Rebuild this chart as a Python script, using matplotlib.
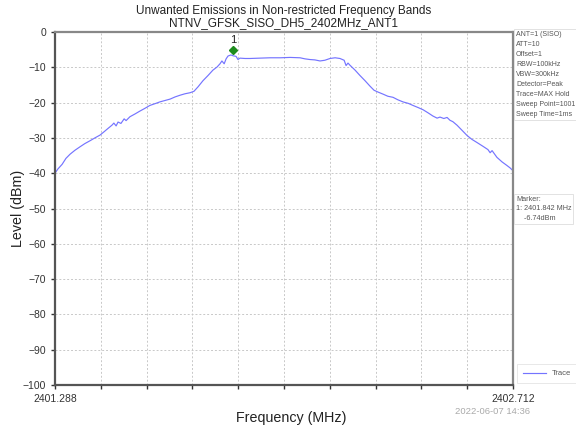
import matplotlib
matplotlib.use("Agg")
import matplotlib.pyplot as plt
import matplotlib.transforms as mtransforms

plt.rcParams['font.family'] = ['Liberation Sans', 'DejaVu Sans']

title = "Unwanted Emissions in Non-restricted Frequency Bands\nNTNV_GFSK_SISO_DH5_2402MHz_ANT1"
f_start, f_stop = 2401.288, 2402.712
freq = [2401.288, 2401.297, 2401.310, 2401.322, 2401.335, 2401.350, 2401.366, 2401.381,
        2401.397, 2401.412, 2401.428, 2401.440, 2401.453, 2401.465, 2401.471, 2401.478,
        2401.484, 2401.493, 2401.503, 2401.509, 2401.521, 2401.537, 2401.552, 2401.568,
        2401.583, 2401.599, 2401.614, 2401.630, 2401.646, 2401.661, 2401.677, 2401.692,
        2401.708, 2401.720, 2401.733, 2401.748, 2401.764, 2401.779, 2401.792, 2401.801,
        2401.807, 2401.814, 2401.820, 2401.826, 2401.835, 2401.842, 2401.851, 2401.857,
        2401.863, 2401.879, 2401.894, 2401.925, 2401.957, 2401.988, 2402.019, 2402.050,
        2402.065, 2402.081, 2402.096, 2402.112, 2402.127, 2402.143, 2402.159, 2402.174,
        2402.187, 2402.193, 2402.199, 2402.205, 2402.221, 2402.236, 2402.252, 2402.267,
        2402.280, 2402.292, 2402.308, 2402.323, 2402.339, 2402.354, 2402.370, 2402.386,
        2402.401, 2402.417, 2402.432, 2402.448, 2402.463, 2402.476, 2402.485, 2402.497,
        2402.507, 2402.516, 2402.525, 2402.538, 2402.553, 2402.569, 2402.584, 2402.600,
        2402.619, 2402.634, 2402.641, 2402.647, 2402.662, 2402.678, 2402.693, 2402.703,
        2402.712]
level = [-40.0, -38.8, -37.5, -35.8, -34.6, -33.5, -32.5, -31.6,
         -30.8, -30.0, -29.2, -28.3, -27.3, -26.4, -25.8, -26.6,
         -25.5, -25.9, -24.6, -25.1, -24.0, -23.2, -22.4, -21.6,
         -20.8, -20.3, -19.8, -19.4, -19.0, -18.4, -17.9, -17.5,
         -17.2, -16.8, -15.5, -13.8, -12.3, -10.8, -9.9, -9.0,
         -8.2, -9.0, -7.6, -6.8, -6.5, -6.74, -6.9, -7.8,
         -7.4, -7.5, -7.5, -7.4, -7.3, -7.3, -7.2, -7.3,
         -7.6, -7.8, -7.9, -8.2, -8.0, -7.5, -7.3, -7.5,
         -8.0, -9.5, -8.8, -9.4, -10.8, -12.3, -13.8, -15.3,
         -16.5, -17.0, -17.6, -18.2, -18.5, -19.2, -19.8, -20.2,
         -20.8, -21.4, -22.0, -22.9, -23.8, -24.4, -24.1, -24.5,
         -24.2, -25.0, -25.4, -26.4, -27.8, -29.3, -30.4, -31.3,
         -32.4, -33.3, -34.2, -33.6, -35.5, -36.8, -37.8, -38.5,
         -39.3]
marker_freq = 2401.842
marker_level = -6.74
y_ticks = [0, -10, -20, -30, -40, -50, -60, -70, -80, -90, -100]
info_text = ("ANT=1 (SISO)\nATT=10\nOffset=1\nRBW=100kHz\nVBW=300kHz\nDetector=Peak\n"
             "Trace=MAX Hold\nSweep Point=1001\nSweep Time=1ms")
marker_text = "Marker:\n1: 2401.842 MHz\n    -6.74dBm"
timestamp = "2022-06-07 14:36"

fig = plt.figure(figsize=(5.76, 4.28), dpi=100)
ax = fig.add_axes([0.0955, 0.1005, 0.7951, 0.8247])

ax.plot(freq, level, color='#7474ff', lw=0.85, label='Trace')
off = mtransforms.offset_copy(ax.transData, fig=fig, x=0, y=4.5, units='points')
ax.plot([marker_freq], [marker_level], marker='D', color='#1e8c1e', markersize=4.5,
        transform=off, zorder=5)
off2 = mtransforms.offset_copy(ax.transData, fig=fig, x=0, y=7.5, units='points')
ax.text(marker_freq, marker_level, "1", transform=off2, ha='center', va='bottom',
        fontsize=8, color='#222222')

ax.set_xlim(f_start, f_stop)
ax.set_ylim(-100, 0)
step = (f_stop - f_start) / 10
xt = [f_start + i * step for i in range(11)]
ax.set_xticks(xt)
ax.set_xticklabels([f"{f_start:.3f}"] + [""] * 9 + [f"{f_stop:.3f}"])
ax.set_yticks(y_ticks)
ax.set_yticklabels([str(v).replace('-', '\u2212') for v in y_ticks])
ax.tick_params(labelsize=7.5, colors='#333333', length=3, width=1)
ax.grid(True, ls=(0, (2, 2)), color='#c8c8c8', lw=0.7)
for s in ax.spines.values():
    s.set_color('#555555')
    s.set_linewidth(1.6)
ax.spines['right'].set_color('#888888')
ax.spines['top'].set_color('#888888')

ax.set_xlabel("Frequency (MHz)", fontsize=10.3, color='#222222')
ax.set_ylabel("Level (dBm)", fontsize=10.3, color='#222222')
ax.xaxis.set_label_coords(0.515, -0.075)
ax.yaxis.set_label_coords(-0.066, 0.5)
ax.set_title(title, fontsize=8.5, color='#222222', pad=4, linespacing=1.1)

fig.text(0.896, 0.928, info_text, fontsize=5.05, color='#555555', va='top', ha='left',
         linespacing=1.6,
         bbox=dict(boxstyle='square,pad=0.25', fc='white', ec='#dddddd', lw=0.6))
fig.text(0.896, 0.543, marker_text, fontsize=5.2, color='#555555', va='top', ha='left',
         linespacing=1.55,
         bbox=dict(boxstyle='square,pad=0.25', fc='white', ec='#dddddd', lw=0.6))
leg = ax.legend(loc='lower left', bbox_to_anchor=(1.005, 0.0), fontsize=5.5,
                frameon=True, handlelength=3, borderpad=0.5, labelcolor='#555555')
leg.get_frame().set_edgecolor('#dddddd')
leg.get_frame().set_linewidth(0.6)
leg.get_frame().set_boxstyle('square')
fig.text(0.790, 0.028, timestamp, fontsize=6.8, color='#aaaaaa', ha='left', va='bottom')

fig.savefig("out.png", dpi=100)
